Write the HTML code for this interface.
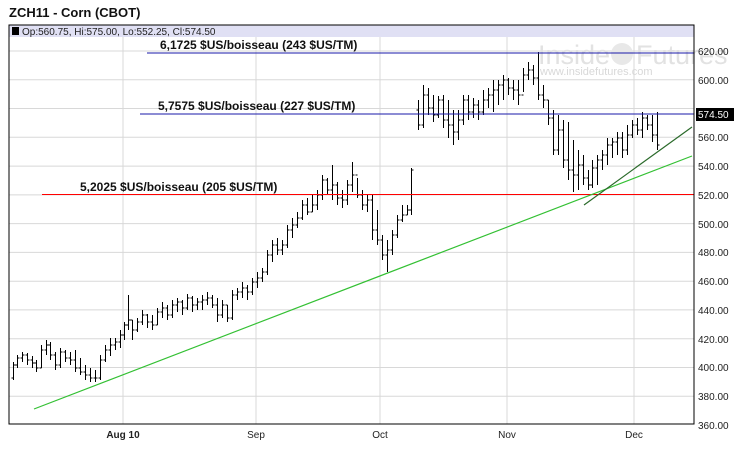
<!DOCTYPE html>
<html><head><style>
body{margin:0;background:#fff;font-family:"Liberation Sans",sans-serif}
</style></head><body>
<svg width="741" height="449" xmlns="http://www.w3.org/2000/svg" font-family="Liberation Sans, sans-serif">
<rect width="741" height="449" fill="#fff"/>
<text x="9" y="17" font-size="13" font-weight="bold" fill="#111">ZCH11 - Corn (CBOT)</text>
<rect x="9" y="25" width="685" height="12" fill="#e0e0f4"/>
<rect x="12" y="27" width="7" height="8" fill="#000"/>
<text x="22" y="35" font-size="10" fill="#222">Op:560.75, Hi:575.00, Lo:552.25, Cl:574.50</text>
<g stroke="#d8d8d8" stroke-width="1">
<line x1="9" x2="694" y1="51" y2="51"/><line x1="9" x2="694" y1="79.8" y2="79.8"/><line x1="9" x2="694" y1="108.5" y2="108.5"/><line x1="9" x2="694" y1="137.3" y2="137.3"/><line x1="9" x2="694" y1="166.1" y2="166.1"/><line x1="9" x2="694" y1="194.9" y2="194.9"/><line x1="9" x2="694" y1="223.6" y2="223.6"/><line x1="9" x2="694" y1="252.4" y2="252.4"/><line x1="9" x2="694" y1="281.2" y2="281.2"/><line x1="9" x2="694" y1="309.9" y2="309.9"/><line x1="9" x2="694" y1="338.7" y2="338.7"/><line x1="9" x2="694" y1="367.5" y2="367.5"/><line x1="9" x2="694" y1="396.2" y2="396.2"/>
<line x1="123" x2="123" y1="37" y2="424"/><line x1="256" x2="256" y1="37" y2="424"/><line x1="380" x2="380" y1="37" y2="424"/><line x1="507" x2="507" y1="37" y2="424"/><line x1="634" x2="634" y1="37" y2="424"/>
</g>
<text x="538" y="64" font-size="27" fill="#e2e2e2">Inside</text>
<circle cx="622" cy="54" r="11" fill="#e8e8e8"/>
<text x="636" y="64" font-size="27" fill="#e2e2e2">Futures</text>
<text x="540" y="75" font-size="11" fill="#d8d8d8">www.insidefutures.com</text>
<path stroke="#000" stroke-width="1" fill="none" d="
M13.5 362V380M11.5 378H13.5M13.5 365H15.5
M17.5 355V368M15.5 365H17.5M17.5 358H19.5
M22.5 352V362M20.5 358H22.5M22.5 355H24.5
M27.5 353V365M25.5 355H27.5M27.5 360H29.5
M32.5 356V368M30.5 360H32.5M32.5 363H34.5
M36.5 360V372M34.5 363H36.5M36.5 368H38.5
M41.5 345V368M39.5 368H41.5M41.5 350H43.5
M46.5 340V355M44.5 350H46.5M46.5 345H48.5
M50.5 342V360M48.5 345H50.5M50.5 355H52.5
M55.5 352V370M53.5 355H55.5M55.5 365H57.5
M60.5 348V368M58.5 365H60.5M60.5 352H62.5
M65.5 350V362M63.5 352H65.5M65.5 358H67.5
M70.5 352V365M68.5 358H70.5M70.5 360H72.5
M75.5 350V372M73.5 360H75.5M75.5 368H77.5
M80.5 358V375M78.5 368H80.5M80.5 372H82.5
M85.5 365V380M83.5 372H85.5M85.5 375H87.5
M90.5 368V382M88.5 375H90.5M90.5 378H92.5
M95.5 370V382M93.5 378H95.5M95.5 378H97.5
M100.5 355V380M98.5 378H100.5M100.5 360H102.5
M105.5 345V362M103.5 360H105.5M105.5 350H107.5
M110.5 338V356M108.5 350H110.5M110.5 345H112.5
M115.5 338V350M113.5 345H115.5M115.5 342H117.5
M120.5 330V348M118.5 342H120.5M120.5 335H122.5
M124.5 322V340M122.5 335H124.5M124.5 325H126.5
M128.5 295V330M126.5 325H128.5M128.5 320H130.5
M132.5 320V340M130.5 320H132.5M132.5 330H134.5
M137.5 318V332M135.5 330H137.5M137.5 322H139.5
M142.5 310V325M140.5 322H142.5M142.5 315H144.5
M147.5 314V328M145.5 315H147.5M147.5 322H149.5
M152.5 315V330M150.5 322H152.5M152.5 325H154.5
M157.5 308V325M155.5 325H157.5M157.5 312H159.5
M162.5 302V318M160.5 312H162.5M162.5 308H164.5
M167.5 305V320M165.5 308H167.5M167.5 315H169.5
M172.5 300V318M170.5 315H172.5M172.5 305H174.5
M177.5 298V312M175.5 305H177.5M177.5 302H179.5
M182.5 300V315M180.5 302H182.5M182.5 308H184.5
M187.5 294V310M185.5 308H187.5M187.5 298H189.5
M192.5 296V312M190.5 298H192.5M192.5 305H194.5
M197.5 298V310M195.5 305H197.5M197.5 302H199.5
M202.5 295V310M200.5 302H202.5M202.5 300H204.5
M207.5 292V305M205.5 300H207.5M207.5 298H209.5
M212.5 295V308M210.5 298H212.5M212.5 305H214.5
M217.5 298V322M215.5 305H217.5M217.5 315H219.5
M222.5 300V318M220.5 315H222.5M222.5 305H224.5
M227.5 305V322M225.5 305H227.5M227.5 318H229.5
M232.5 290V320M230.5 318H232.5M232.5 295H234.5
M237.5 288V300M235.5 295H237.5M237.5 292H239.5
M242.5 282V298M240.5 292H242.5M242.5 288H244.5
M247.5 285V300M245.5 288H247.5M247.5 292H249.5
M252.5 278V295M250.5 292H252.5M252.5 282H254.5
M257.5 272V288M255.5 282H257.5M257.5 278H259.5
M262.5 268V282M260.5 278H262.5M262.5 272H264.5
M267.5 250V275M265.5 272H267.5M267.5 255H269.5
M272.5 240V262M270.5 255H272.5M272.5 245H274.5
M277.5 238V255M275.5 245H277.5M277.5 250H279.5
M282.5 240V255M280.5 250H282.5M282.5 245H284.5
M287.5 225V248M285.5 245H287.5M287.5 230H289.5
M292.5 218V238M290.5 230H292.5M292.5 225H294.5
M297.5 212V228M295.5 225H297.5M297.5 218H299.5
M302.5 200V220M300.5 218H302.5M302.5 205H304.5
M307.5 198V215M305.5 205H307.5M307.5 212H309.5
M312.5 195V212M310.5 212H312.5M312.5 205H314.5
M317.5 190V210M315.5 205H317.5M317.5 195H319.5
M322.5 175V200M320.5 195H322.5M322.5 180H324.5
M327.5 178V195M325.5 180H327.5M327.5 190H329.5
M332.5 165V200M330.5 190H332.5M332.5 185H334.5
M337.5 182V205M335.5 185H337.5M337.5 198H339.5
M342.5 190V208M340.5 198H342.5M342.5 200H344.5
M347.5 180V205M345.5 200H347.5M347.5 185H349.5
M352.5 162V192M350.5 185H352.5M352.5 175H354.5
M357.5 178V198M355.5 175H357.5M357.5 195H359.5
M362.5 190V210M360.5 195H362.5M362.5 205H364.5
M367.5 195V212M365.5 205H367.5M367.5 200H369.5
M372.5 195V240M370.5 200H372.5M372.5 230H374.5
M377.5 210V245M375.5 230H377.5M377.5 240H379.5
M382.5 235V260M380.5 240H382.5M382.5 255H384.5
M387.5 240V272M385.5 255H387.5M387.5 250H389.5
M392.5 230V255M390.5 250H392.5M392.5 235H394.5
M397.5 215V238M395.5 235H397.5M397.5 220H399.5
M402.5 205V222M400.5 220H402.5M402.5 215H404.5
M407.5 205V215M405.5 215H407.5M407.5 210H409.5
M411.5 168V215M409.5 210H411.5M411.5 170H413.5
M418.5 100V130M416.5 110H418.5M418.5 125H420.5
M423.5 85V128M421.5 125H423.5M423.5 95H425.5
M428.5 88V115M426.5 95H428.5M428.5 108H430.5
M433.5 95V122M431.5 108H433.5M433.5 115H435.5
M438.5 96V118M436.5 115H438.5M438.5 100H440.5
M443.5 95V128M441.5 100H443.5M443.5 120H445.5
M448.5 100V138M446.5 120H448.5M448.5 125H450.5
M453.5 110V145M451.5 125H453.5M453.5 132H455.5
M458.5 110V140M456.5 132H458.5M458.5 120H460.5
M463.5 95V125M461.5 120H463.5M463.5 100H465.5
M468.5 95V120M466.5 100H468.5M468.5 112H470.5
M473.5 98V118M471.5 112H473.5M473.5 105H475.5
M478.5 100V120M476.5 105H478.5M478.5 112H480.5
M483.5 90V115M481.5 112H483.5M483.5 100H485.5
M488.5 88V108M486.5 100H488.5M488.5 95H490.5
M493.5 80V112M491.5 95H493.5M493.5 90H495.5
M498.5 80V105M496.5 90H498.5M498.5 85H500.5
M503.5 75V100M501.5 85H503.5M503.5 80H505.5
M508.5 78V95M506.5 80H508.5M508.5 88H510.5
M513.5 80V100M511.5 88H513.5M513.5 90H515.5
M518.5 80V105M516.5 90H518.5M518.5 95H520.5
M523.5 68V92M521.5 95H523.5M523.5 75H525.5
M528.5 62V80M526.5 75H528.5M528.5 70H530.5
M533.5 65V85M531.5 70H533.5M533.5 78H535.5
M538.5 52V100M536.5 78H538.5M538.5 95H540.5
M543.5 85V108M541.5 95H543.5M543.5 100H545.5
M548.5 100V125M546.5 100H548.5M548.5 118H550.5
M553.5 110V155M551.5 118H553.5M553.5 150H555.5
M558.5 115V155M556.5 150H558.5M558.5 130H560.5
M563.5 120V168M561.5 130H563.5M563.5 160H565.5
M568.5 122V180M566.5 160H568.5M568.5 170H570.5
M573.5 140V192M571.5 170H573.5M573.5 175H575.5
M578.5 150V190M576.5 175H578.5M578.5 165H580.5
M583.5 155V185M581.5 165H583.5M583.5 178H585.5
M588.5 170V190M586.5 178H588.5M588.5 185H590.5
M592.5 160V188M590.5 185H592.5M592.5 168H594.5
M597.5 155V185M595.5 168H597.5M597.5 160H599.5
M602.5 150V170M600.5 160H602.5M602.5 155H604.5
M607.5 138V165M605.5 155H607.5M607.5 145H609.5
M612.5 138V158M610.5 145H612.5M612.5 142H614.5
M617.5 132V155M615.5 142H617.5M617.5 138H619.5
M622.5 132V158M620.5 138H622.5M622.5 150H624.5
M627.5 125V155M625.5 150H627.5M627.5 135H629.5
M632.5 120V138M630.5 135H632.5M632.5 125H634.5
M637.5 118V135M635.5 125H637.5M637.5 130H639.5
M642.5 112V138M640.5 130H642.5M642.5 118H644.5
M647.5 115V130M645.5 118H647.5M647.5 125H649.5
M652.5 115V142M650.5 125H652.5M652.5 135H654.5
M657.5 112V150M655.5 135H657.5M657.5 145H659.5
"/>
<line x1="147" x2="694" y1="53" y2="53" stroke="#1a1aaa"/>
<line x1="140" x2="694" y1="114" y2="114" stroke="#1a1aaa"/>
<line x1="42" x2="694" y1="194.5" y2="194.5" stroke="#f00"/>
<line x1="34" x2="692" y1="409" y2="156" stroke="#33c033" stroke-width="1.2"/>
<line x1="584" x2="692" y1="205" y2="127" stroke="#2a6a2a" stroke-width="1.2"/>
<g font-size="12" font-weight="bold" fill="#111">
<text x="160" y="49">6,1725 $US/boisseau (243 $US/TM)</text>
<text x="158" y="110">5,7575 $US/boisseau (227 $US/TM)</text>
<text x="80" y="191">5,2025 $US/boisseau (205 $US/TM)</text>
</g>
<rect x="9" y="25" width="685" height="399" fill="none" stroke="#000"/>
<g font-size="10" fill="#222">
<text x="698" y="55">620.00</text><text x="698" y="84">600.00</text><text x="698" y="141">560.00</text><text x="698" y="170">540.00</text><text x="698" y="199">520.00</text><text x="698" y="228">500.00</text><text x="698" y="256">480.00</text><text x="698" y="285">460.00</text><text x="698" y="314">440.00</text><text x="698" y="343">420.00</text><text x="698" y="371">400.00</text><text x="698" y="400">380.00</text><text x="698" y="429">360.00</text>
</g>
<rect x="696" y="108" width="38" height="13" fill="#000"/>
<text x="698" y="118" font-size="10" fill="#fff">574.50</text>
<g font-size="10" fill="#222" text-anchor="middle">
<text x="123" y="438" font-weight="bold">Aug 10</text><text x="256" y="438">Sep</text><text x="380" y="438">Oct</text><text x="507" y="438">Nov</text><text x="634" y="438">Dec</text>
</g>
</svg>
</body></html>
